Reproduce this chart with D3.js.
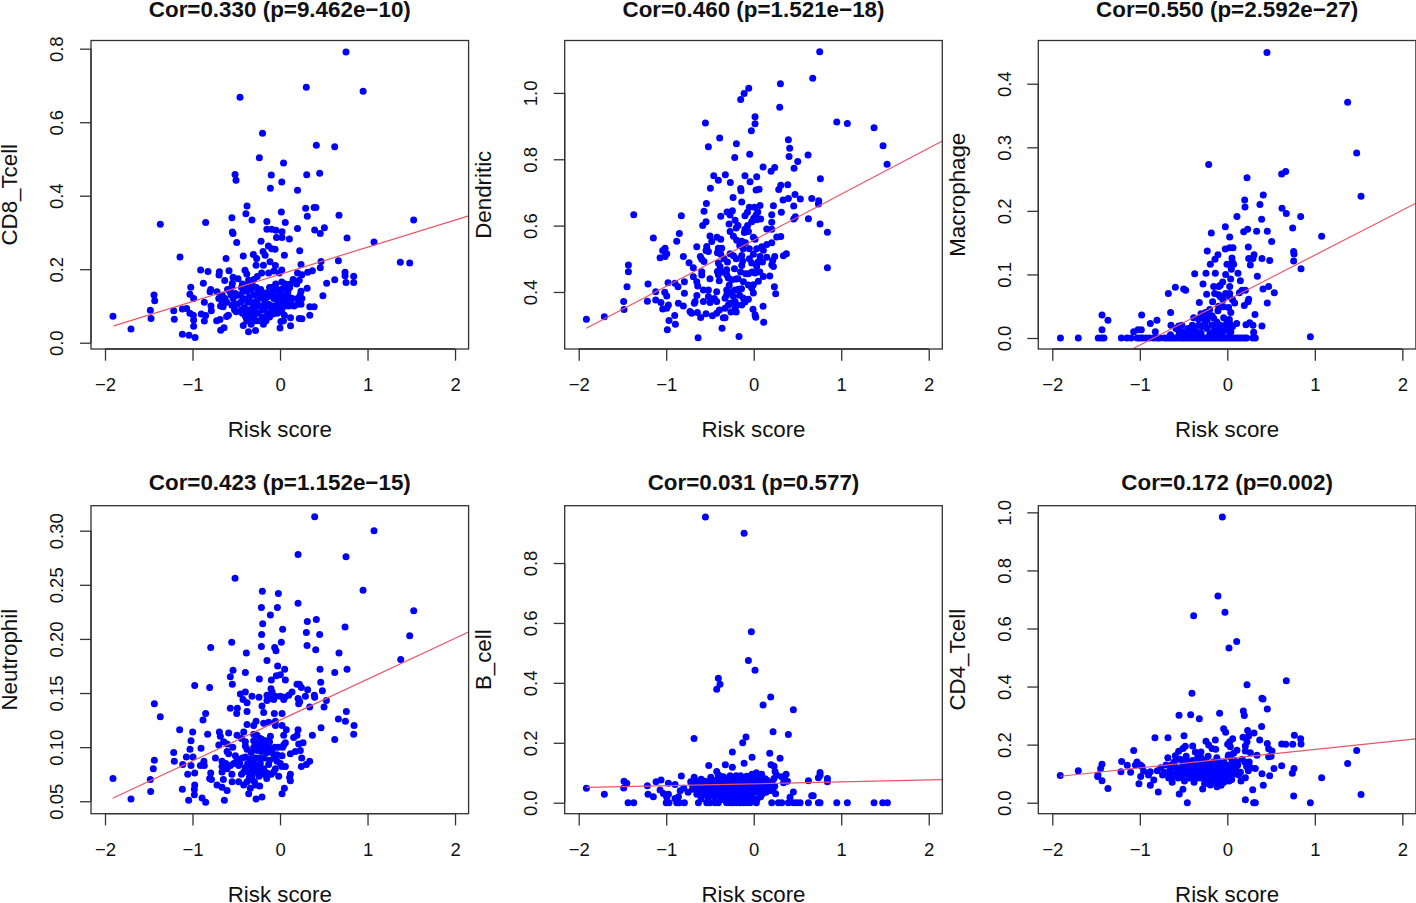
<!DOCTYPE html>
<html><head><meta charset="utf-8">
<script src="https://cdnjs.cloudflare.com/ajax/libs/d3/7.8.5/d3.min.js"></script>
<style>html,body{margin:0;padding:0;background:#fff}svg{display:block}text{font-family:"Liberation Sans",Arial,sans-serif;fill:#111}</style>
</head><body><svg id="c" width="1416" height="903"></svg>
<script>
const xTicks=[-2,-1,0,1,2];
const titles=["Cor=0.330 (p=9.462e\u221210)","Cor=0.460 (p=1.521e\u221218)","Cor=0.550 (p=2.592e\u221227)","Cor=0.423 (p=1.152e\u221215)","Cor=0.031 (p=0.577)","Cor=0.172 (p=0.002)"];
const yNames=["CD8_Tcell","Dendritic","Macrophage","Neutrophil","B_cell","CD4_Tcell"];
const xLabel="Risk score";
const yTicks1=[0,0.2,0.4,0.6,0.8], yTicks2=[0.4,0.6,0.8,1.0], yTicks3=[0,0.1,0.2,0.3,0.4], yTicks4=[0.05,0.10,0.15,0.20,0.25,0.30], yTicks5=[0,0.2,0.4,0.6,0.8], yTicks6=[0,0.2,0.4,0.6,0.8,1.0];
const yDigits=[1,1,1,2,1,1];
const xDomain=[-2.16,2.155];
const yDomains=[[-0.0171,0.8223],[0.2281,1.158],[-0.0173,0.468],[0.0385,0.3231],[-0.0367,0.9913],[-0.0379,1.0229]];
const fitLines=[[[-1.9,0.046],[2.155,0.345]],[[-1.912,0.2905],[2.155,0.855]],[[-1.07,-0.016],[2.155,0.212]],[[-1.912,0.0528],[2.155,0.2064]],[[-1.912,0.051],[2.155,0.077]],[[-1.909,0.091],[2.155,0.22]]];

const cd8=[[.754,.791],[.3,.695],[.95,.684],[-.457,.668],[-.2,.57],[.415,.537],[.625,.533],[-.236,.503],[.04,.489],[-.514,.458],[-.503,.442],[-.1,.456],[.305,.457],[.453,.461],[.02,.437],[-.11,.42],[.2,.415],[-.377,.372],[.293,.366],[.39,.368],[.41,.368],[.015,.356],[-.39,.351],[.674,.347],[.312,.344],[-.55,.34],[1.527,.334],[-.32,.334],[-.15,.33],[.06,.327],[-.85,.327],[-1.368,.322],[.2,.311],[.507,.313],[.396,.307],[-.545,.301],[-.537,.297],[-.15,.309],[-.095,.309],[-.046,.306],[.023,.302],[.46,.297],[-.04,.286],[.023,.286],[.107,.282],[.766,.285],[-.495,.273],[-.217,.276],[1.074,.274],[-.133,.263],[-.057,.254],[-.095,.256],[.225,.25],[.05,.238],[-.194,.248],[-.305,.24],[-.17,.238],[-.42,.236],[-1.143,.233],[-.617,.229],[-.267,.229],[.667,.223],[.469,.221],[1.375,.219],[1.482,.217],[-.114,.22],[-.274,.211],[.24,.213],[-.053,.21],[-.19,.211],[.46,.204],[-.907,.198],[-.823,.194],[-.583,.196],[-.4,.197],[-.693,.193],[-.697,.184],[.02,.198],[.37,.196],[.316,.192],[.743,.192],[.743,.182],[.842,.181],[.842,.164],[.754,.164],[.625,.171],[.533,.162],[-.876,.162],[-.632,.169],[-.537,.178],[-.48,.174],[-1.02,.151],[-1.03,.132],[-.987,.12],[-.865,.11],[-1.44,.13],[-1.432,.114],[-1.482,.088],[-1.474,.066],[-1.703,.037],[-1.909,.072],[-1.215,.087],[-1.208,.064],[-1.116,.092],[-1.067,.093],[-1.03,.08],[-.99,.075],[-.987,.062],[-.987,.045],[-.9,.078],[-.85,.074],[-.865,.059],[-1.116,.023],[-1.04,.02],[-.971,.014],[-.8,.139],[-.792,.145],[-.789,.1],[-.785,.087],[-.724,.06],[-.686,.063],[-.678,.034],[-.64,.041],[-.59,.075],[-.61,.071],[-.72,.139],[-.66,.129],[-.66,.11],[-.65,.098],[-.57,.139],[-.51,.134],[-.535,.12],[-.49,.129],[-.61,.11],[-.55,.102],[-.49,.105],[-.5,.084],[-.55,.152],[-.545,.162],[-.38,.187],[-.36,.17],[-.3,.172],[-.26,.18],[-.21,.19],[-.13,.19],[-.07,.195],[-.01,.19],[.06,.16],[.15,.172],[.19,.16],[.22,.17],[.25,.185],[.2,.19],[.31,.148],[.24,.14],[.49,.128],[.12,.16],[.02,.165],[-.05,.16],[-.1,.15],[-.43,.16],[-.38,.14],[-.42,.12],[-.37,.11],[-.41,.095],[-.43,.08],[-.39,.07],[-.42,.047],[-.36,.03],[-.28,.033],[-.33,.05],[-.34,.08],[-.31,.095],[-.28,.11],[-.3,.13],[-.27,.15],[-.23,.13],[-.21,.1],[-.25,.08],[-.2,.07],[-.19,.05],[-.16,.06],[-.14,.08],[-.1,.085],[-.17,.11],[-.14,.125],[-.08,.1],[-.05,.088],[-.02,.11],[-.01,.13],[.01,.145],[.05,.13],[.04,.11],[.07,.15],[.1,.125],[.13,.105],[.1,.1],[.2,.105],[.24,.105],[.25,.12],[.09,.14],[-.04,.145],[-.06,.1],[-.08,.078],[.05,.075],[.12,.068],[.22,.066],[.25,.065],[.34,.075],[.34,.098],[.39,.098],[0,.04],[.01,.058],[.04,.06],[.12,.046],[-.02,.105],[.02,.12],[.06,.1],[-.12,.07],[-.11,.1],[-.3,.065],[-.34,.065],[-.7,.12],[-.68,.1],[-.63,.12],[-.6,.145],[-.56,.13],[-.53,.105],[-.52,.09],[-.46,.13],[-.45,.11],[-.44,.09],[-.42,.14],[-.39,.155],[-.35,.125],[-.33,.145],[-.32,.16],[-.29,.09],[-.26,.115],[-.25,.14],[-.24,.1],[-.22,.145],[-.19,.12],[-.18,.09],[-.16,.135],[-.13,.105],[-.12,.15],[-.09,.135],[-.07,.12],[-.04,.125],[-.03,.08],[0,.095],[.02,.085],[.03,.13],[.05,.15],[.07,.115],[.08,.13],[.11,.15],[.14,.12],[.16,.1],[.2,.12],[.23,.13],[-.33,.11],[-.37,.09],[-.4,.075],[-.38,.06],[-.3,.075],[-.27,.06],[-.23,.06],[-.2,.09],[-.15,.1],[-.44,.15]];

const dendritic=[[.754,1.124],[.674,1.044],[.305,1.028],[-.057,1.014],[-.11,.998],[-.149,.98],[.297,.957],[.015,.928],[.015,.907],[-.552,.909],[.949,.912],[1.07,.908],[1.375,.895],[-.027,.886],[-.389,.864],[.396,.859],[-.198,.847],[-.518,.838],[1.478,.841],[.411,.833],[-.046,.815],[.621,.813],[.404,.808],[-.217,.805],[.503,.793],[1.524,.785],[.107,.777],[.24,.775],[.198,.764],[.461,.773],[-.324,.753],[-.457,.75],[-.1,.75],[.034,.747],[-.404,.737],[.762,.741],[-.267,.73],[-.042,.732],[.389,.723],[.309,.722],[.286,.709],[-.495,.713],[-.149,.712],[-.145,.705],[.027,.707],[.061,.71],[.472,.694],[.396,.682],[.335,.677],[.533,.68],[.663,.682],[.743,.675],[.739,.665],[-.236,.685],[-.137,.671],[-.541,.667],[.072,.661],[.225,.66],[.457,.659],[-.05,.655],[.008,.655],[-.568,.643],[-.244,.645],[-.305,.641],[-.27,.632],[.316,.64],[.206,.633],[.046,.641],[.027,.632],[-.1,.63],[-.072,.64],[-1.371,.633],[-.827,.63],[-.377,.628],[.476,.627],[.457,.62],[.625,.621],[0,.622],[-.023,.612],[.034,.618],[-.213,.616],[-.545,.612],[-.583,.6],[-.282,.605],[.206,.61],[.758,.605],[.842,.58],[.149,.59],[.206,.589],[-.85,.576],[-.2,.593],[-.27,.582],[-.1,.589],[-.06,.582],[-.107,.579],[-1.147,.563],[-.88,.553],[-.5,.569],[-.48,.552],[-.42,.565],[-.377,.559],[-.232,.568],[-.194,.556],[-.137,.553],[-.095,.548],[-.004,.565],[.015,.559],[.263,.566],[.309,.567],[-.651,.536],[-.537,.537],[-.545,.525],[-.518,.522],[-.404,.532],[-.366,.532],[-.415,.518],[-.377,.514],[-1.013,.532],[-1.04,.525],[-.994,.515],[-1.07,.503],[-1.013,.507],[-.804,.507],[.206,.548],[.149,.543],[.091,.536],[.034,.53],[.11,.526],[-.137,.51],[-.126,.493],[-.137,.48],[-.27,.515],[-.232,.509],[-.004,.514],[.072,.507],[.149,.505],[.24,.507],[.217,.495],[.206,.482],[.225,.477],[.339,.509],[.373,.515],[-.61,.507],[-.594,.499],[-.568,.492],[-.739,.488],[-.69,.473],[-1.432,.481],[-1.432,.461],[-1.448,.416],[-1.208,.424],[.842,.473],[-.594,.461],[-.594,.451],[-.69,.446],[-.651,.431],[-.64,.418],[-.404,.487],[-.385,.477],[-.415,.462],[-.404,.452],[-.394,.434],[-.309,.467],[-.309,.452],[-.29,.442],[-.251,.437],[-.202,.439],[-.023,.487],[.034,.477],[.015,.457],[-.061,.455],[-.091,.455],[.11,.447],[.053,.432],[-.004,.422],[-.023,.412],[-.004,.397],[.183,.448],[-.118,.431],[-.061,.421],[.236,.416],[.251,.395],[-.792,.431],[-.865,.416],[-.9,.426],[-.979,.428],[-1.12,.401],[-1.017,.399],[-.994,.388],[-.792,.396],[-1.215,.372],[-1.12,.376],[-1.486,.371],[-1.482,.347],[-1.707,.325],[-1.912,.318],[-1.06,.368],[-1.04,.349],[-.975,.361],[-.994,.351],[-.861,.366],[-.804,.358],[-.728,.341],[-.709,.336],[-.644,.338],[-.606,.323],[-.903,.329],[-.968,.314],[-.895,.303],[-.987,.286],[-.636,.262],[-.362,.291],[-.168,.266],[.114,.309],[.015,.331],[.023,.324],[-.008,.348],[.107,.357],[-.328,.322],[-.347,.322],[-.545,.334],[-.472,.328],[-.423,.336],[-.392,.346],[-.328,.351],[-.29,.361],[-.67,.371],[-.678,.366],[-.575,.371],[-.518,.386],[-.499,.368],[-.423,.371],[-.423,.401],[-.518,.406],[-.575,.406],[-.309,.406],[-.309,.391],[-.328,.381],[-.251,.401],[-.213,.406],[-.175,.408],[-.232,.386],[-.213,.371],[-.194,.361],[-.27,.366],[-.213,.351],[-.137,.361],[-.118,.381],[-.061,.378],[-.65,.389],[-.2,.5],[-.22,.47],[-.3,.49],[-.34,.5],[-.36,.46],[-.18,.44],[-.15,.46],[-.05,.5],[-.02,.46],[.05,.49],[.07,.46],[-.28,.42],[-.16,.39],[-.14,.41],[-.1,.37],[-.26,.34],[-.5,.44],[-.45,.38],[-.16,.54],[-.18,.6],[-.07,.6],[.08,.62],[-.2,.34],[-.12,.53],[-.05,.53],[.1,.49]];

const macrophage=[[.453,.449],[1.375,.371],[1.478,.291],[-.213,.273],[.667,.262],[.621,.258],[.225,.252],[.411,.225],[1.528,.223],[.198,.217],[.373,.21],[.202,.206],[.625,.204],[.674,.196],[.11,.191],[.838,.191],[.392,.187],[-.023,.175],[.747,.173],[.187,.167],[.232,.171],[.335,.168],[.457,.168],[-.183,.165],[1.078,.16],[.027,.159],[.507,.152],[.24,.143],[-.023,.14],[.027,.142],[.065,.142],[-.229,.137],[.758,.136],[.762,.132],[-.107,.131],[.305,.131],[.293,.125],[.244,.125],[.396,.125],[.484,.122],[.053,.126],[-.141,.124],[.057,.12],[.758,.121],[-.194,.116],[-.004,.116],[.072,.116],[.042,.112],[.263,.115],[.842,.109],[.046,.108],[-.373,.101],[-.244,.102],[-.137,.102],[-.019,.1],[.122,.102],[.343,.097],[.038,.093],[.149,.09],[-.053,.088],[-.08,.083],[-.278,.085],[-.156,.081],[-.099,.081],[.027,.081],[-.594,.08],[-.499,.077],[-.476,.075],[.472,.081],[.408,.077],[.168,.075],[.206,.075],[.537,.071],[-.674,.07],[-.236,.069],[-.145,.07],[-.099,.068],[-.08,.065],[-.05,.062],[.027,.07],[.027,.065],[.137,.071],[.244,.061],[.236,.057],[-.32,.056],[-.168,.057],[.084,.055],[.457,.055],[.194,.051],[-.08,.049],[-.042,.049],[.015,.048],[-.202,.045],[-.107,.043],[-.648,.04],[-.979,.036],[-1.432,.036],[-1.364,.028],[.316,.037],[-.301,.038],[-.385,.032],[-.175,.035],[-.278,.031],[-.232,.028],[-.156,.031],[-.042,.032],[.023,.029],[-.004,.026],[.027,.023],[-.804,.028],[-.88,.023],[-.644,.02],[-.556,.019],[.107,.023],[.213,.021],[.255,.024],[.293,.02],[.396,.019],[-1.432,.013],[-1.07,.01],[-1.021,.013],[-.983,.013],[-.823,.01],[-.587,.015],[-.556,.012],[-.499,.01],[-.442,.01],[-.385,.015],[-.328,.02],[-.29,.018],[-.232,.015],[-.137,.015],[-.099,.012],[-.042,.015],[-.004,.012],[.015,.015],[.301,.009],[.949,.002],[-1.907,0],[-1.703,0],[-1.475,0],[-1.44,0],[-1.41,0],[-1.211,0],[-1.147,0],[-1.1,0],[-1.03,0],[-1,0],[-.97,0],[-.93,0],[-.89,0],[-.84,0],[-.8,0],[-.77,0],[-.72,0],[-.69,0],[-.66,0],[-.63,0],[-.6,0],[-.57,0],[-.54,0],[-.51,0],[-.49,0],[-.46,0],[-.43,0],[-.4,0],[-.37,0],[-.34,0],[-.31,0],[-.28,0],[-.25,0],[-.22,0],[-.19,0],[-.16,0],[-.13,0],[-.1,0],[-.07,0],[-.04,0],[-.01,0],[.02,0],[.05,0],[.08,0],[.11,0],[.14,0],[.17,0],[.2,0],[.22,0],[.29,0],[.32,0],[-.55,.006],[-.48,.005],[-.42,.006],[-.36,.007],[-.3,.008],[-.2,.006],[-.12,.005],[-.06,.006],[.03,.005],[-.65,.005],[-.52,.02],[-.45,.015],[-.4,.02],[-.35,.01],[-.33,.03],[-.26,.022],[-.25,.04],[-.18,.02],[-.16,.01],[-.12,.025],[-.08,.02],[-.06,.01],[-.02,.02],[.04,.01],[.06,.018],[-.22,.035],[-.1,.05],[-.05,.06],[-.02,.07],[.04,.04],[.06,.06]];

const neutrophil=[[.396,.313],[1.074,.3],[.206,.278],[.754,.276],[-.514,.256],[.949,.245],[-.202,.244],[-.019,.242],[.206,.233],[-.213,.229],[-.03,.229],[1.528,.226],[-.11,.222],[.415,.218],[.312,.216],[-.198,.214],[.743,.211],[.03,.209],[.301,.206],[.453,.204],[-.21,.204],[1.482,.203],[-.552,.197],[.015,.197],[-.213,.193],[.309,.194],[-.792,.192],[-.061,.192],[-.046,.189],[.408,.19],[-.385,.187],[.674,.187],[-.149,.18],[1.379,.181],[-.027,.175],[.053,.172],[-.537,.171],[.457,.172],[.766,.172],[-.396,.169],[.625,.169],[-.568,.165],[-.236,.163],[-.099,.162],[-.042,.166],[.004,.167],[.061,.162],[.465,.16],[-.545,.158],[-.975,.157],[-.804,.155],[.194,.158],[.221,.158],[.244,.155],[-.396,.151],[-.453,.149],[-.103,.154],[-.091,.151],[-.149,.148],[.137,.151],[.316,.153],[.29,.147],[.484,.152],[-.32,.147],[-.24,.146],[.392,.148],[.396,.146],[-.053,.147],[.004,.147],[.053,.146],[.099,.148],[.042,.144],[-.11,.145],[-.149,.143],[-.072,.144],[.206,.145],[.225,.142],[.213,.14],[.53,.143],[-1.436,.14],[-.423,.144],[-.377,.141],[-.206,.138],[.339,.137],[.503,.137],[-.568,.136],[-.488,.136],[.758,.133],[-.377,.133],[-.187,.132],[-.065,.131],[.023,.131],[-.495,.131],[-.85,.131],[-1.368,.128],[-.88,.125],[.667,.126],[.747,.124],[-.274,.124],[-.187,.122],[-.13,.123],[-.053,.124],[-.377,.121],[-.301,.12],[.846,.12],[-.053,.12],[.023,.12],[.072,.116],[.469,.118],[.206,.116],[-1.147,.116],[-.998,.114],[-.827,.112],[-.693,.114],[-.587,.113],[-.682,.11],[-.491,.111],[-.415,.114],[-.301,.112],[-.263,.111],[.842,.112],[.37,.111],[.156,.109],[.194,.111],[.042,.111],[-.11,.11],[.625,.107],[-1.017,.106],[.061,.104],[.042,.102],[.213,.103],[.263,.104],[-.396,.105],[-.396,.101],[-.377,.098],[-.7,.102],[-.644,.105],[-.605,.103],[-.301,.106],[-.263,.103],[-.225,.104],[-.187,.101],[-.149,.102],[-.11,.099],[-.263,.097],[-.149,.095],[-.091,.095],[-.034,.093],[.023,.092],[-.225,.108],[-.206,.107],[-.168,.106],[-.903,.099],[-1.029,.098],[-1.215,.095],[-1.208,.087],[-1.07,.091],[-.994,.091],[-1.436,.088],[.175,.096],[.232,.097],[.118,.094],[.248,.09],[-.738,.09],[-.663,.087],[-.605,.096],[-.587,.094],[-.51,.092],[-.491,.089],[-.396,.091],[-.339,.089],[-.87,.087],[-.91,.083],[-.865,.083],[-1.112,.084],[-1.017,.083],[-1.448,.08],[.339,.087],[.301,.084],[.244,.082],[-.034,.087],[.004,.085],[.023,.082],[.061,.082],[-.053,.08],[-.663,.082],[-.663,.077],[-.605,.08],[-.567,.083],[-.529,.085],[-.472,.083],[-.396,.081],[-.339,.083],[-.301,.086],[-.225,.085],[-.187,.08],[-.13,.084],[-.358,.077],[-.415,.077],[-.32,.074],[-.263,.077],[-.206,.079],[-.149,.076],[-.072,.077],[-.015,.073],[-1.055,.075],[-.975,.076],[-.792,.076],[-.804,.071],[-.784,.07],[-1.482,.07],[-1.909,.071],[-.152,.071],[.118,.075],[.11,.072],[.118,.069],[-.648,.07],[-.547,.068],[-.472,.068],[-.415,.065],[-.377,.068],[-.32,.07],[-.293,.068],[-.339,.062],[-.358,.057],[-.232,.064],[-.975,.065],[-.979,.061],[-.979,.056],[-1.116,.061],[-.72,.065],[-.663,.063],[-.605,.06],[-1.478,.059],[-1.703,.052],[-1.044,.051],[-.891,.053],[-.85,.049],[-.636,.051],[-.274,.052],[-.206,.054],[.023,.057],[.05,.062],[-.3,.1],[-.33,.095],[-.28,.09],[-.24,.09],[-.21,.096],[-.18,.09],[-.12,.088],[-.07,.09],[-.43,.09],[-.46,.085],[-.54,.1],[-.31,.08],[-.27,.082],[-.24,.073],[-.18,.075],[-.1,.075],[-.44,.075],[-.37,.085],[-.62,.085],[-.55,.075],[-.35,.072],[-.28,.065],[-.22,.1],[-.17,.1],[-.06,.1],[-.02,.1],[.03,.1],[-.12,.105],[-.26,.1],[-.44,.108]];

const bCell=[[-.552,.954],[-.11,.899],[-.027,.571],[-.061,.475],[.015,.442],[-.404,.415],[-.385,.395],[-.423,.379],[.194,.353],[.107,.326],[.453,.31],[.221,.237],[.396,.228],[-.088,.219],[-.126,.2],[-.682,.214],[-.244,.169],[.183,.165],[-.019,.152],[.301,.148],[-.11,.132],[-.324,.127],[.198,.127],[.232,.122],[-.514,.124],[-.244,.118],[.758,.101],[.758,.092],[.739,.083],[.842,.081],[.842,.07],[.37,.095],[.358,.076],[.244,.104],[.263,.092],[.232,.081],[-.827,.089],[-.423,.104],[-.404,.092],[-.347,.087],[.625,.073],[.32,.087],[.385,.072],[.34,.067],[-1.482,.072],[-1.451,.065],[-1.486,.049],[-1.912,.048],[-1.707,.028],[-1.215,.057],[-1.116,.07],[-1.059,.076],[-.975,.065],[-.899,.061],[-1.208,.028],[-1.147,.02],[-1.07,.042],[-1.032,.031],[-.975,.028],[-.994,.018],[.453,.036],[.415,.018],[.663,.023],[.68,.023],[-1.436,0],[-1.371,0],[-1,0],[-.968,0],[-.88,0],[-.85,0],[-.792,0],[-.632,0],[-.537,0],[-.5,0],[-.442,0],[-.404,0],[-.31,0],[-.27,0],[-.24,0],[-.2,0],[-.16,0],[-.12,0],[-.08,0],[-.04,0],[.03,0],[.206,0],[.282,0],[.32,0],[.396,0],[.453,0],[.491,0],[.53,0],[.625,0],[.739,0],[.758,0],[.949,0],[1.07,0],[1.375,0],[1.474,0],[1.528,0],[-.84,.04],[-.8,.048],[-.75,.035],[-.9,.014],[-.86,.02],[-.7,.06],[-.68,.085],[-.66,.05],[-.64,.07],[-.62,.035],[-.6,.078],[-.58,.055],[-.6,.012],[-.55,.045],[-.53,.07],[-.51,.03],[-.49,.085],[-.47,.058],[-.45,.02],[-.43,.075],[-.41,.045],[-.39,.09],[-.37,.062],[-.35,.03],[-.33,.078],[-.31,.05],[-.29,.02],[-.27,.09],[-.25,.065],[-.23,.04],[-.21,.08],[-.19,.055],[-.17,.025],[-.15,.09],[-.13,.07],[-.11,.045],[-.09,.015],[-.08,.088],[-.06,.06],[-.04,.03],[-.02,.095],[0,.07],[.01,.04],[.03,.1],[.05,.08],[.06,.052],[.08,.02],[.1,.072],[.12,.055],[.14,.035],[.16,.06],[.19,.05],[.22,.04],[.25,.03],[.24,.055],[.21,.07],[-.34,.01],[-.28,.01],[-.22,.015],[-.14,.01],[-.7,.045],[-.72,.07],[-.65,.028],[-.57,.028],[-.52,.015],[-.44,.035],[-.38,.012],[-.26,.03],[-.18,.07],[-.12,.08],[-.1,.06],[-.06,.04],[-.02,.05],[.02,.085],[.02,.06],[.09,.095],[.13,.08],[-.3,.065],[-.24,.055],[-.16,.045],[-.36,.05],[-.46,.07],[-.54,.06],[-.6,.045],[-.03,.01],[.04,.012],[.1,.03],[-.68,.06],[-.66,.07],[-.6,.06],[-.56,.072],[-.56,.03],[-.52,.05],[-.5,.06],[-.48,.04],[-.46,.035],[-.44,.055],[-.42,.06],[-.4,.075],[-.38,.035],[-.36,.075],[-.34,.05],[-.32,.06],[-.3,.04],[-.28,.075],[-.28,.045],[-.26,.055],[-.24,.08],[-.24,.02],[-.22,.065],[-.21,.035],[-.2,.09],[-.19,.04],[-.17,.08],[-.16,.065],[-.15,.03],[-.14,.055],[-.12,.06],[-.12,.035],[-.1,.08],[-.1,.025],[-.08,.05],[-.07,.075],[-.05,.045],[-.03,.075],[-.02,.02],[0,.05],[0,.09],[.02,.035],[.04,.065],[.07,.07],[.08,.04],[.1,.05],[.12,.07],[.15,.075],[.17,.04],[-.5,.045],[-.42,.03],[-.27,.06],[-.13,.05],[-.09,.04],[-.3,.08],[-.22,.05],[-.16,.02]];

const cd4=[[-.057,.984],[-.107,.712],[-.385,.644],[-.027,.656],[.107,.555],[.019,.533],[.674,.42],[.225,.406],[-.404,.377],[.396,.36],[.408,.357],[.457,.323],[.183,.316],[.194,.3],[-.088,.308],[-.552,.301],[-.419,.303],[-.32,.289],[.392,.262],[-.042,.255],[-.019,.243],[.232,.249],[.305,.24],[.244,.23],[.766,.232],[.838,.22],[.842,.202],[-.495,.231],[-.678,.224],[-.827,.224],[-.137,.216],[.061,.22],[.027,.21],[.004,.201],[.034,.193],[.179,.225],[.225,.21],[.206,.195],[.37,.216],[.457,.204],[.472,.186],[.51,.178],[.621,.202],[.667,.201],[.747,.201],[-.244,.212],[-.213,.199],[-.175,.187],[-.396,.195],[-.366,.175],[-.48,.194],[-.507,.187],[-.556,.177],[-.594,.162],[-1.07,.18],[-.133,.184],[-.301,.175],[1.478,.18],[.5,.16],[.472,.158],[.339,.163],[.263,.172],[.206,.178],[.11,.181],[.072,.17],[.015,.164],[-1.208,.142],[-1.032,.14],[-1.143,.129],[-.994,.13],[1.375,.135],[-1.432,.132],[-1.448,.118],[-1.478,.095],[-1.482,.09],[-1.432,.076],[-1.703,.11],[-1.909,.094],[-1.364,.049],[-1.215,.107],[-1.105,.105],[-1.05,.13],[-.975,.125],[-.956,.108],[-.99,.09],[-1.01,.065],[-.88,.107],[-.9,.095],[-.84,.078],[-.88,.06],[-.789,.037],[-.549,.03],[-.507,.046],[-.457,0],[.206,.01],[.29,.045],[.301,0],[.32,0],[.758,.023],[.949,0],[1.528,.028],[1.078,.086],[.743,.101],[.762,.118],[.621,.127],[.533,.118],[.484,.093],[.396,.1],[.411,.06],[.32,.118],[.206,.086],[.156,.075],[-.282,.047],[-.118,.055],[-.194,.061],[-.8,.11],[-.76,.12],[-.74,.095],[-.72,.105],[-.7,.13],[-.68,.155],[-.67,.085],[-.65,.115],[-.63,.07],[-.61,.14],[-.6,.098],[-.58,.12],[-.56,.085],[-.54,.15],[-.53,.105],[-.51,.13],[-.49,.075],[-.47,.16],[-.46,.1],[-.44,.085],[-.42,.125],[-.4,.145],[-.38,.07],[-.36,.1],[-.34,.155],[-.33,.12],[-.31,.085],[-.29,.14],[-.27,.105],[-.26,.065],[-.24,.13],[-.22,.16],[-.21,.09],[-.19,.115],[-.17,.07],[-.16,.14],[-.14,.1],[-.12,.155],[-.11,.08],[-.09,.125],[-.07,.06],[-.06,.105],[-.04,.14],[-.02,.085],[0,.115],[.01,.16],[.02,.075],[.04,.13],[.06,.1],[.08,.145],[.1,.115],[.12,.13],[.13,.095],[.15,.105],[.17,.15],[.2,.14],[.22,.125],[.25,.14],[.24,.11],[.27,.12],[-.57,.11],[-.48,.115],[-.4,.095],[-.35,.13],[-.28,.12],[-.25,.095],[-.18,.135],[-.15,.085],[-.1,.14],[-.05,.085],[-.03,.11],[.03,.1],[-.44,.14],[-.3,.155],[-.2,.1],[.05,.08],[-.66,.1],[-.64,.13],[-.62,.09],[-.58,.15],[-.55,.1],[-.52,.09],[-.5,.11],[-.48,.14],[-.45,.12],[-.43,.105],[-.41,.085],[-.39,.11],[-.37,.13],[-.35,.085],[-.32,.105],[-.31,.14],[-.29,.1],[-.28,.085],[-.26,.12],[-.25,.145],[-.23,.105],[-.22,.08],[-.2,.13],[-.18,.095],[-.17,.115],[-.15,.125],[-.13,.12],[-.12,.09],[-.11,.11],[-.09,.095],[-.08,.14],[-.06,.085],[-.05,.12],[-.03,.095],[-.01,.13],[0,.08],[.01,.1],[.03,.12],[.05,.15],[.07,.12],[.09,.1],[.11,.14],[-.34,.095],[-.3,.12],[-.2,.075],[-.16,.1],[-.13,.07],[-.08,.07],[-.04,.07],[-.6,.125],[-.52,.115],[-.46,.125]];

const panelData=[cd8,dendritic,macrophage,neutrophil,bCell,cd4];
const panelTicks=[yTicks1,yTicks2,yTicks3,yTicks4,yTicks5,yTicks6];

const boxW=377.6;
const colLeft=[91,564.7,1038.3];
const rows=[{top:40.5,bottom:349,title:16.5,tick:390.7,label:437},{top:505.7,bottom:813.7,title:490,tick:855.7,label:901.7}];
const yTickBase=[-27.7,-27.4,-27.3], yNameBase=[-74.3,-74,-73.3];
const svg=d3.select("#c");
const defs=svg.append("defs");

panelData.forEach((pts,i)=>{
  const col=i%3,row=rows[i<3?0:1],L=colLeft[col],R=L+boxW;
  const x=d3.scaleLinear().domain(xDomain).range([L,R]);
  const y=d3.scaleLinear().domain(yDomains[i]).range([row.bottom,row.top]);
  const cx=(L+R)/2, cy=(row.top+row.bottom)/2;
  const g=svg.append("g");
  defs.append("clipPath").attr("id","clip"+i).append("rect").attr("x",L).attr("y",row.top).attr("width",boxW).attr("height",row.bottom-row.top);

  g.append("g").selectAll("circle").data(pts).join("circle")
    .attr("cx",d=>x(d[0])).attr("cy",d=>y(d[1])).attr("r",3.5).attr("fill","#0000ff");
  g.append("line").attr("clip-path","url(#clip"+i+")")
    .attr("x1",x(fitLines[i][0][0])).attr("y1",y(fitLines[i][0][1]))
    .attr("x2",x(fitLines[i][1][0])).attr("y2",y(fitLines[i][1][1]))
    .attr("stroke","#ea5468").attr("stroke-width",1.2);
  g.append("rect").attr("x",L).attr("y",row.top).attr("width",boxW).attr("height",row.bottom-row.top)
    .attr("fill","none").attr("stroke","#333").attr("stroke-width",1.3);

  const ax=g.append("g").attr("transform",`translate(0,${row.bottom})`)
    .call(d3.axisBottom(x).tickValues(xTicks).tickSize(11.7).tickSizeOuter(0).tickFormat(d=>String(d).replace("-","\u2212")));
  ax.select(".domain").attr("d",`M${x(-2)},0H${x(2)}`).attr("stroke","#333").attr("stroke-width",1.3);
  ax.selectAll(".tick line").attr("stroke","#333").attr("stroke-width",1.3);
  ax.selectAll("text").attr("y",0).attr("dy",0).attr("transform",`translate(0,${row.tick-row.bottom})`).style("font-size","18.5px").attr("text-anchor","middle").attr("fill","#111");

  const ay=g.append("g").attr("transform",`translate(${L},0)`)
    .call(d3.axisLeft(y).tickValues(panelTicks[i]).tickSize(11).tickSizeOuter(0).tickFormat(d3.format("."+yDigits[i]+"f")));
  const ts=panelTicks[i];
  ay.select(".domain").attr("d",`M0,${y(ts[0])}V${y(ts[ts.length-1])}`).attr("stroke","#333").attr("stroke-width",1.3);
  ay.selectAll(".tick line").attr("stroke","#333").attr("stroke-width",1.3);
  ay.selectAll("text").attr("x",0).attr("y",0).attr("dy",0).attr("text-anchor","middle")
    .attr("transform",`translate(${yTickBase[col]},0) rotate(-90)`).style("font-size","18.5px").attr("fill","#111");

  g.append("text").attr("x",cx).attr("y",row.title).attr("text-anchor","middle").style("font-size","22.4px").style("font-weight","bold").text(titles[i]);
  g.append("text").attr("x",cx).attr("y",row.label).attr("text-anchor","middle").style("font-size","22.3px").text(xLabel);
  g.append("text").attr("transform",`translate(${L+yNameBase[col]},${cy}) rotate(-90)`).attr("text-anchor","middle").style("font-size","22.3px").text(yNames[i]);
});
</script></body></html>
